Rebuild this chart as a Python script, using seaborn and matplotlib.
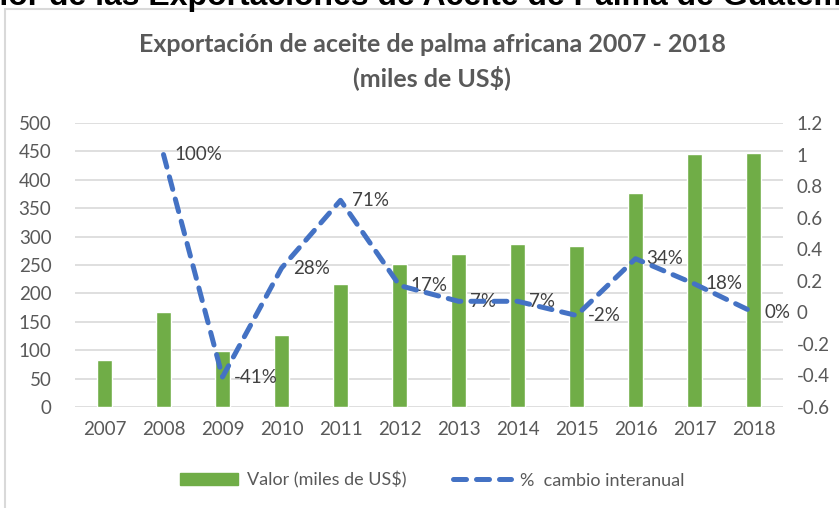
import seaborn as sns
import matplotlib.pyplot as plt
import pandas as pd
from matplotlib.patches import Patch, Rectangle
from matplotlib.lines import Line2D

# data
years = [2007, 2008, 2009, 2010, 2011, 2012, 2013, 2014, 2015, 2016, 2017, 2018]
valor = [83, 167, 99, 127, 216, 252, 269, 287, 283, 376, 445, 448]
cambio_years = [2008, 2009, 2010, 2011, 2012, 2013, 2014, 2015, 2016, 2017, 2018]
cambio = [1.00, -0.41, 0.28, 0.71, 0.17, 0.07, 0.07, -0.02, 0.34, 0.18, 0.00]
cambio_labels = ['100%', '-41%', '28%', '71%', '17%', '7%', '7%', '-2%', '34%', '18%', '0%']
left_ticks = list(range(0, 501, 50))
right_ticks = [-0.6, -0.4, -0.2, 0, 0.2, 0.4, 0.6, 0.8, 1, 1.2]

green = '#70AD47'
blue = '#4472C4'
grey = '#595959'
fs = 13.5

sns.set_theme(style='white')
plt.rcParams['font.family'] = ['Lato', 'DejaVu Sans']

df = pd.DataFrame({'year': years, 'valor': valor})
dfc = pd.DataFrame({'year': cambio_years, 'cambio': cambio})

fig = plt.figure(figsize=(8.39, 5.08), dpi=100)
ax = fig.add_axes([75/839, 1-407/508, (783-75)/839, (407-123)/508])

sns.barplot(data=df, x='year', y='valor', ax=ax, color=green, width=0.265,
            native_scale=True, saturation=1, zorder=3)
ax.set_xlim(2006.5, 2018.5)
ax.set_ylim(0, 500)
ax.set_yticks(left_ticks)
ax.set_xticks(years)
ax.set_xticklabels([str(y) for y in years])
ax.grid(axis='y', color='#D9D9D9', lw=1.2, zorder=0)
ax.set_xlabel('')
ax.set_ylabel('')
ax.tick_params(axis='both', colors=grey, labelsize=fs, length=0, pad=10)
ax.tick_params(axis='y', pad=17)
for s in ax.spines.values():
    s.set_visible(False)

ax2 = ax.twinx()
sns.lineplot(data=dfc, x='year', y='cambio', ax=ax2, color=blue, lw=3.6, zorder=4)
ax2.lines[0].set_dashes([2.6, 2.0])
ax2.lines[0].set_dash_capstyle('round')
ax2.set_ylim(-0.6, 1.2)
ax2.set_yticks(right_ticks)
ax2.set_yticklabels(['%g' % t for t in right_ticks])
ax2.tick_params(axis='y', colors=grey, labelsize=fs, length=0, pad=10)
ax2.set_xlabel('')
ax2.set_ylabel('')
for s in ax2.spines.values():
    s.set_visible(False)
for x, y, t in zip(cambio_years, cambio, cambio_labels):
    ax2.annotate(t, (x, y), xytext=(8, 0), textcoords='offset points',
                 ha='left', va='center', fontsize=fs, color='#404040')

fig.text(0.515, 1-44/508, 'Exportación de aceite de palma africana 2007 - 2018',
         ha='center', va='center', fontsize=18, fontweight='bold', color=grey)
fig.text(0.515, 1-78/508, '(miles de US$)',
         ha='center', va='center', fontsize=18, fontweight='bold', color=grey)

# cut-off heading from the page above the chart
fig.text(0.505, 1-5/508, 'Valor de las Exportaciones de Aceite de Palma de Guatemala',
         ha='center', va='baseline', fontsize=23, fontweight='bold', color='black',
         family=['Liberation Sans', 'DejaVu Sans'])

# chart border
fig.patches.append(Rectangle((5/839, -0.1), 1.1, 1-9/508+0.1, transform=fig.transFigure,
                             fill=False, ec='#D9D9D9', lw=1.5))

handles = [Patch(color=green, label='Valor (miles de US$)'),
           Line2D([0], [0], color=blue, lw=3.6, dashes=[2.6, 2.0],
                  dash_capstyle='round', label='%  cambio interanual')]
fig.legend(handles=handles, loc='center', bbox_to_anchor=(0.515, 1-480/508), ncol=2,
           frameon=False, fontsize=13, labelcolor=grey, handlelength=3.2,
           handleheight=0.6, handletextpad=0.5, columnspacing=2.6)

fig.savefig('out.png', dpi=100)
